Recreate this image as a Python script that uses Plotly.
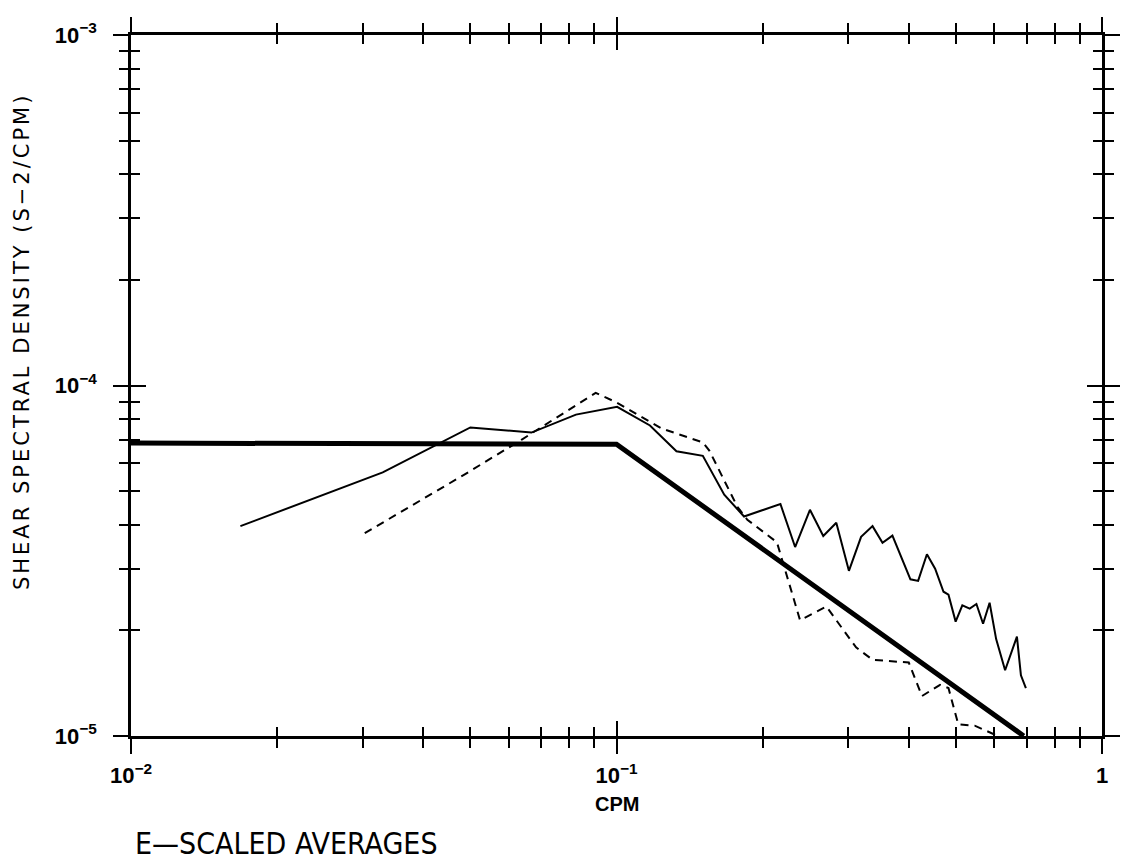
import plotly.graph_objects as go

# ---- data ----
x_model = [0.01, 0.1, 0.69]
y_model = [6.85e-5, 6.8e-5, 1.0e-5]

x_solid = [0.0168, 0.0330, 0.0500, 0.0668, 0.0825, 0.1003, 0.1172, 0.1329, 0.1506,
           0.1667, 0.1831, 0.2176, 0.2333, 0.2503, 0.2666, 0.2836, 0.3011, 0.3190,
           0.3368, 0.3531, 0.3701, 0.4031, 0.4181, 0.4359, 0.4532, 0.4716, 0.4828,
           0.4995, 0.5156, 0.5340, 0.5512, 0.5689, 0.5868, 0.6053, 0.6316, 0.6680,
           0.6808, 0.6970]
y_solid = [3.97e-5, 5.65e-5, 7.59e-5, 7.34e-5, 8.26e-5, 8.69e-5, 7.69e-5, 6.49e-5, 6.30e-5,
           4.88e-5, 4.23e-5, 4.59e-5, 3.46e-5, 4.42e-5, 3.72e-5, 4.06e-5, 2.96e-5, 3.70e-5,
           3.97e-5, 3.56e-5, 3.73e-5, 2.80e-5, 2.77e-5, 3.30e-5, 3.00e-5, 2.58e-5, 2.53e-5,
           2.12e-5, 2.36e-5, 2.31e-5, 2.38e-5, 2.09e-5, 2.40e-5, 1.89e-5, 1.54e-5, 1.92e-5,
           1.49e-5, 1.37e-5]

x_dash = [0.0303, 0.0485, 0.0637, 0.0717, 0.0906, 0.1003, 0.1239, 0.1506, 0.1553,
          0.1774, 0.1860, 0.2140, 0.2388, 0.2706, 0.3115, 0.3368, 0.3758, 0.4000,
          0.4258, 0.4639, 0.4828, 0.5058, 0.5468, 0.6006, 0.6295, 0.6808]
y_dash = [3.79e-5, 5.56e-5, 7.00e-5, 7.76e-5, 9.53e-5, 8.93e-5, 7.54e-5, 6.88e-5, 6.52e-5,
          4.51e-5, 4.14e-5, 3.57e-5, 2.14e-5, 2.34e-5, 1.79e-5, 1.65e-5, 1.63e-5, 1.62e-5,
          1.30e-5, 1.40e-5, 1.37e-5, 1.08e-5, 1.07e-5, 1.01e-5, 0.88e-5, 0.87e-5]

x_tick_vals = [0.01, 0.1, 1]
x_tick_text = ["<b>10<sup>\u22122</sup></b>", "<b>10<sup>\u22121</sup></b>", "<b>1</b>"]
y_tick_vals = [1e-5, 1e-4, 1e-3]
y_tick_text = ["<b>10<sup>\u22125</sup></b>", "<b>10<sup>\u22124</sup></b>",
               "<b>10<sup>\u22123</sup></b>"]
x_minor = [m * 10 ** e for e in (-2, -1) for m in range(2, 10)]
y_minor = [m * 10 ** e for e in (-5, -4) for m in range(2, 10)]

x_title = "<b>CPM</b>"
y_title = "<span style='letter-spacing:3px'>SHEAR SPECTRAL DENSITY (S\u22122/CPM)</span>"
caption = "E\u2014SCALED AVERAGES"

FONT = "Liberation Sans, Arial, Helvetica, sans-serif"
WIDE = "DejaVu Sans, Liberation Sans, sans-serif"
NARROW = "Liberation Sans Narrow, DejaVu Sans Condensed, Arial Narrow, Liberation Sans, sans-serif"

fig = go.Figure()
fig.add_trace(go.Scatter(x=x_solid, y=y_solid, mode="lines",
                         line=dict(color="black", width=2), showlegend=False))
fig.add_trace(go.Scatter(x=x_dash, y=y_dash, mode="lines",
                         line=dict(color="black", width=2, dash="8px,6px"), showlegend=False))
fig.add_trace(go.Scatter(x=x_model, y=y_model, mode="lines",
                         line=dict(color="black", width=5), showlegend=False))
# invisible trace to activate the overlay axes (inner half of crossing ticks)
fig.add_trace(go.Scatter(x=x_model, y=y_model, mode="lines", opacity=0,
                         xaxis="x2", yaxis="y2", hoverinfo="skip", showlegend=False))

axis_common = dict(type="log", showgrid=False, zeroline=False, color="black")
tickfont = dict(size=22, family=FONT, color="black")

fig.update_layout(
    width=1132, height=866,
    margin=dict(l=131, r=20, t=35, b=130),
    paper_bgcolor="white", plot_bgcolor="white",
    font=dict(family=FONT, color="black"),
    xaxis=dict(**axis_common, range=[-2, 0], showline=True, linewidth=2.5, linecolor="black",
               mirror="allticks", ticks="outside", ticklen=15, tickwidth=2,
               tickvals=x_tick_vals, ticktext=x_tick_text, tickfont=tickfont,
               ticklabelstandoff=3,
               minor=dict(tickvals=x_minor, ticks="outside", ticklen=9, tickwidth=2,
                          tickcolor="black")),
    yaxis=dict(**axis_common, range=[-5, -3], showline=True, linewidth=2.5, linecolor="black",
               mirror="allticks", ticks="outside", ticklen=15, tickwidth=2,
               tickvals=y_tick_vals, ticktext=y_tick_text, tickfont=tickfont,
               ticklabelstandoff=12,
               minor=dict(tickvals=y_minor, ticks="outside", ticklen=9, tickwidth=2,
                          tickcolor="black")),
    xaxis2=dict(**axis_common, range=[-2, 0], overlaying="x", anchor="y2", side="bottom",
                showline=False, mirror="allticks", ticks="inside", ticklen=15, tickwidth=2,
                tickvals=x_tick_vals, showticklabels=False,
                minor=dict(tickvals=x_minor, ticks="inside", ticklen=9, tickwidth=2,
                           tickcolor="black")),
    yaxis2=dict(**axis_common, range=[-5, -3], overlaying="y", anchor="x2", side="left",
                showline=False, mirror="allticks", ticks="inside", ticklen=15, tickwidth=2,
                tickvals=y_tick_vals, showticklabels=False,
                minor=dict(tickvals=y_minor, ticks="inside", ticklen=9, tickwidth=2,
                           tickcolor="black")),
    annotations=[
        dict(text=x_title, xref="paper", yref="paper", x=0.5, y=0, yshift=-68,
             xanchor="center", yanchor="middle", showarrow=False,
             font=dict(size=20, family=FONT)),
        dict(text=y_title, xref="paper", yref="paper", x=0, xshift=-109, y=0.562,
             xanchor="center", yanchor="middle", textangle=-90, showarrow=False,
             font=dict(size=21, family=WIDE)),
        dict(text=caption, xref="paper", yref="paper", x=0, xshift=2, y=0, yshift=-107,
             xanchor="left", yanchor="middle", showarrow=False,
             font=dict(size=30, family=NARROW)),
    ],
)

fig.write_html("out.html")
